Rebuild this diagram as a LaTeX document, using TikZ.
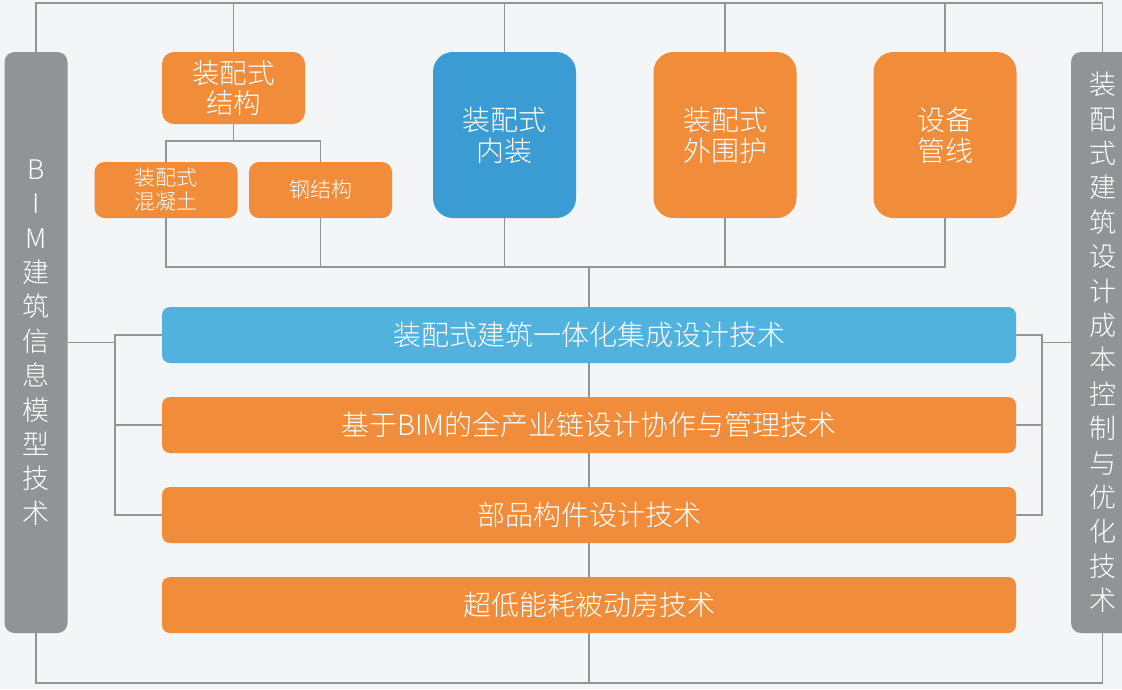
\documentclass[tikz,border=0pt]{standalone}
\usepackage{fontspec}
\IfFontExistsTF{Noto Sans CJK SC Light}
    {\setmainfont{Noto Sans CJK SC Light}}
    {\setmainfont{Noto Sans CJK SC}}
\usetikzlibrary{calc,positioning}
\definecolor{bgcol}{RGB}{244,245,247}
\definecolor{orng}{RGB}{240,140,58}
\definecolor{deepblue}{RGB}{58,156,210}
\definecolor{lightblue}{RGB}{82,178,222}
\definecolor{sidegray}{RGB}{145,148,151}
\definecolor{wirecol}{RGB}{148,148,148}
\pgfdeclarelayer{bg}
\pgfdeclarelayer{wires}
\pgfsetlayers{bg,wires,main}

\begin{document}
\begin{tikzpicture}[x=1pt,y=-1pt,
    box/.style={rectangle,rounded corners=#1,text=white,align=center,inner sep=0pt},
    box/.default=10pt,
    topbox/.style={box=20pt,fill=orng,minimum width=143pt,minimum height=166pt,font=\fontsize{28}{31}\selectfont},
    subbox/.style={box=10pt,fill=orng,minimum width=143pt,minimum height=56pt,font=\fontsize{21}{24}\selectfont},
    bar/.style={box=8pt,fill=orng,minimum width=854pt,minimum height=56pt,font=\fontsize{28}{31}\selectfont},
    side/.style={box=10pt,fill=sidegray,minimum width=63pt,minimum height=581pt,font=\fontsize{27}{34.4}\selectfont},
    wire/.style={draw=wirecol,line width=1.2pt}]
    \useasboundingbox (0,0) rectangle (1122,689);
    \begin{pgfonlayer}{bg}
        \fill [bgcol] (0,0) rectangle (1122,689);
    \end{pgfonlayer}

    % side bars
    \node [side,execute at begin node={\vspace*{14pt}}] (bim) at (36,342.5) {B\\I\\M\\建\\筑\\信\\息\\模\\型\\技\\术};
    \node [side,execute at begin node={\vspace*{4pt}}] (chengben) at (1102.5,342.5) {装\\配\\式\\建\\筑\\设\\计\\成\\本\\控\\制\\与\\优\\化\\技\\术};

    % top row
    \node [box=12pt,fill=orng,minimum width=143pt,minimum height=72pt,font=\fontsize{27.5}{30}\selectfont] (jiegou) at (233.5,88) {装配式\\结构};
    \node [subbox] (hnt) at (166,190) {装配式\\混凝土};
    \node [subbox] (gang) at (320.5,190) {钢结构};
    \node [topbox,fill=deepblue] (neizhuang) at (504.5,135) {装配式\\内装};
    \node [topbox] (weihu) at (725,135) {装配式\\外围护};
    \node [topbox] (shebei) at (945,135) {设备\\管线};

    % technology bars
    \node [bar,fill=lightblue] (jicheng) at (589,335) {装配式建筑一体化集成设计技术};
    \node [bar] (xiezuo) at (589,425) {基于BIM的全产业链设计协作与管理技术};
    \node [bar] (buqin) at (589,515) {部品构件设计技术};
    \node [bar] (dineng) at (589,605) {超低能耗被动房技术};

    \coordinate (topbus) at (0,3);
    \coordinate (split) at (0,141);
    \coordinate (midbus) at (0,267);
    \coordinate (botbus) at (0,683);
    \coordinate (lbus) at (115,0);
    \coordinate (rbus) at (1042,0);

    \begin{pgfonlayer}{wires}
        \draw [wire] (bim.north) -- (bim.north |- topbus) -- (chengben.north |- topbus) -- (chengben.north);
        \foreach \n in {jiegou,neizhuang,weihu,shebei}
            \draw [wire] (\n.north) -- (\n.north |- topbus);
        \draw [wire] (jiegou.south) -- (jiegou.south |- split);
        \draw [wire] (hnt.north) -- (hnt.north |- split) -- (gang.north |- split) -- (gang.north);
        \draw [wire] (hnt.south) -- (hnt.south |- midbus) -- (shebei.south |- midbus) -- (shebei.south);
        \foreach \n in {gang,neizhuang,weihu}
            \draw [wire] (\n.south) -- (\n.south |- midbus);
        \draw [wire] (jicheng.north |- midbus) -- (jicheng.north |- botbus);
        \draw [wire] (bim.south) -- (bim.south |- botbus) -- (chengben.south |- botbus) -- (chengben.south);
        % left bus
        \draw [wire] (bim.east) -- (bim.east -| lbus);
        \draw [wire] (jicheng.west) -- (jicheng.west -| lbus) -- (buqin.west -| lbus) -- (buqin.west);
        \draw [wire] (xiezuo.west) -- (xiezuo.west -| lbus);
        % right bus
        \draw [wire] (chengben.west) -- (chengben.west -| rbus);
        \draw [wire] (jicheng.east) -- (jicheng.east -| rbus) -- (buqin.east -| rbus) -- (buqin.east);
        \draw [wire] (xiezuo.east) -- (xiezuo.east -| rbus);
    \end{pgfonlayer}
\end{tikzpicture}
\end{document}
